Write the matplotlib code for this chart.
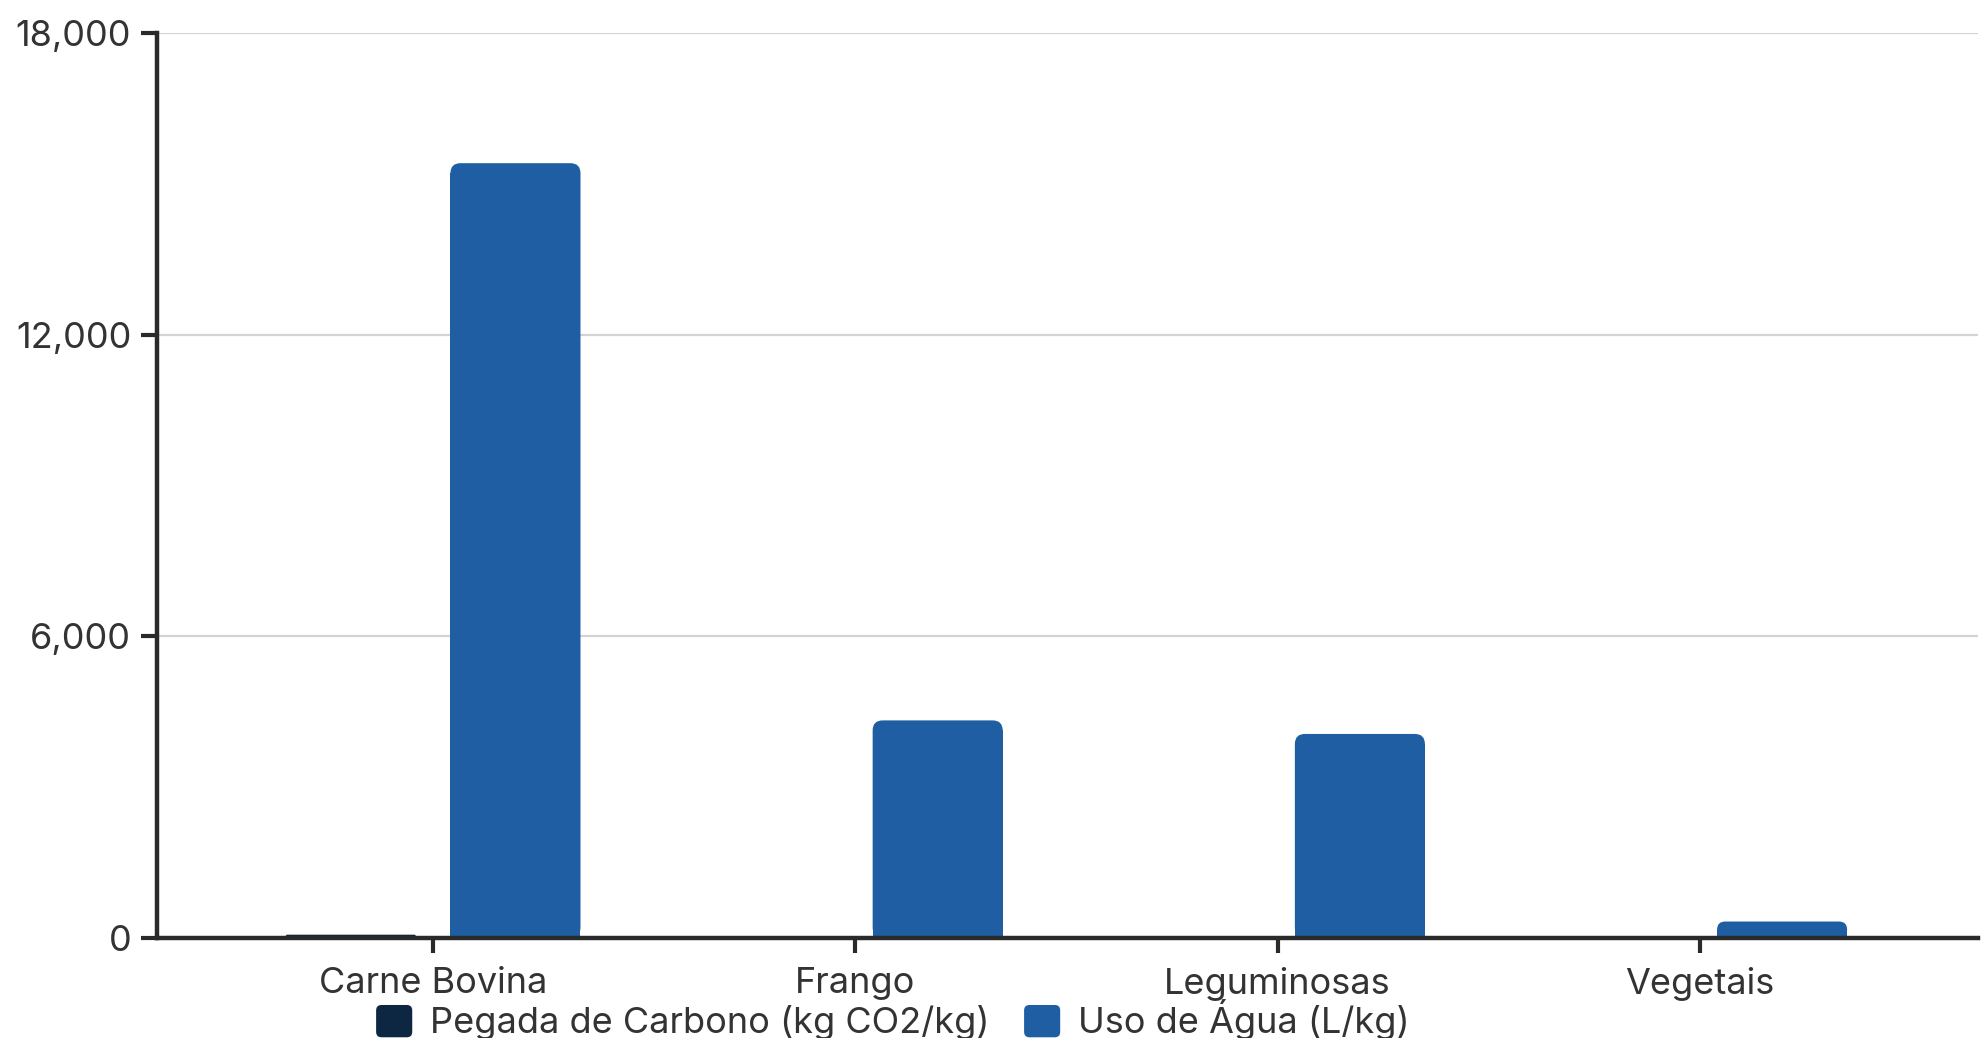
import matplotlib
matplotlib.use("Agg")
import matplotlib.pyplot as plt
from matplotlib.patches import FancyBboxPatch
from matplotlib.legend_handler import HandlerPatch
from matplotlib.ticker import FuncFormatter

categories = ["Carne Bovina", "Frango", "Leguminosas", "Vegetais"]
series_names = ["Pegada de Carbono (kg CO2/kg)", "Uso de Água (L/kg)"]
carbon = [60, 6, 0.9, 2]
water = [15415, 4325, 4055, 322]
yticks = [0, 6000, 12000, 18000]

colors = ["#0d2642", "#1f5ea2"]
text_color = "#333333"
axis_color = "#2a2a2a"

plt.rcParams['font.family'] = ['Inter', 'DejaVu Sans']

W, H = 1986, 1038
fig = plt.figure(figsize=(W / 100, H / 100), dpi=100)
ax = fig.add_axes([157 / W, (H - 937.7) / H, (1978 - 157) / W, (937.7 - 33.3) / H])

x = list(range(len(categories)))
bw = 0.308
off = 0.195
b1 = ax.bar([i - off for i in x], carbon, width=bw, color=colors[0], label=series_names[0])
b2 = ax.bar([i + off for i in x], water, width=bw, color=colors[1], label=series_names[1])

ax.set_xlim(-0.654, 3.659)
ax.set_ylim(0, 18000)
ax.set_yticks(yticks)
ax.yaxis.set_major_formatter(FuncFormatter(lambda v, p: f"{int(v):,}"))
ax.set_xticks(x)
ax.set_xticklabels(categories)

fs = 26
for s in ["top", "right"]:
    ax.spines[s].set_visible(False)
for s in ["left", "bottom"]:
    ax.spines[s].set_color(axis_color)
    ax.spines[s].set_linewidth(3.2)
ax.tick_params(axis="both", colors=axis_color, width=3, labelcolor=text_color, labelsize=fs)
ax.tick_params(axis="y", length=11.5, pad=7)
ax.tick_params(axis="x", length=11, pad=10)
ax.grid(axis="y", color="#d3d3d3", linewidth=1.6)
ax.set_axisbelow(True)

# rounded bar tops
fig.canvas.draw()
pxx = ax.transData.transform((1, 0))[0] - ax.transData.transform((0, 0))[0]
pxy = ax.transData.transform((0, 1))[1] - ax.transData.transform((0, 0))[1]
for bars in (b1, b2):
    for r in bars:
        bx, by = r.get_x(), r.get_y()
        w, h = r.get_width(), r.get_height()
        hpx = h * pxy
        rpx = min(10.0, hpx / 2, w * pxx / 2)
        if rpx <= 0:
            continue
        r.set_visible(False)
        p = FancyBboxPatch((bx, by), w, h,
                           boxstyle=f"round,pad=0,rounding_size={rpx / pxx}",
                           mutation_aspect=pxx / pxy,
                           facecolor=r.get_facecolor(), edgecolor="none", zorder=r.get_zorder())
        ax.add_patch(p)
        ax.add_patch(plt.Rectangle((bx, by), w, max(h - rpx / pxy, 0),
                                   facecolor=r.get_facecolor(), edgecolor="none", zorder=r.get_zorder()))


def rounded_square(legend, orig_handle, xdescent, ydescent, width, height, fontsize):
    return FancyBboxPatch((-xdescent, -ydescent), width, height,
                          boxstyle=f"round,pad=0,rounding_size={width * 0.15}")


handles = [plt.Rectangle((0, 0), 1, 1, facecolor=c, edgecolor="none") for c in colors]
fig.legend(handles, series_names, loc="center", bbox_to_anchor=(893 / W, (H - 1020) / H),
           ncol=2, frameon=False, fontsize=fs, labelcolor=text_color,
           handlelength=1.0, handleheight=1.0, handletextpad=0.5, columnspacing=0.95,
           borderaxespad=0, borderpad=0,
           handler_map={plt.Rectangle: HandlerPatch(patch_func=rounded_square)})

fig.savefig("out.png", dpi=100)
